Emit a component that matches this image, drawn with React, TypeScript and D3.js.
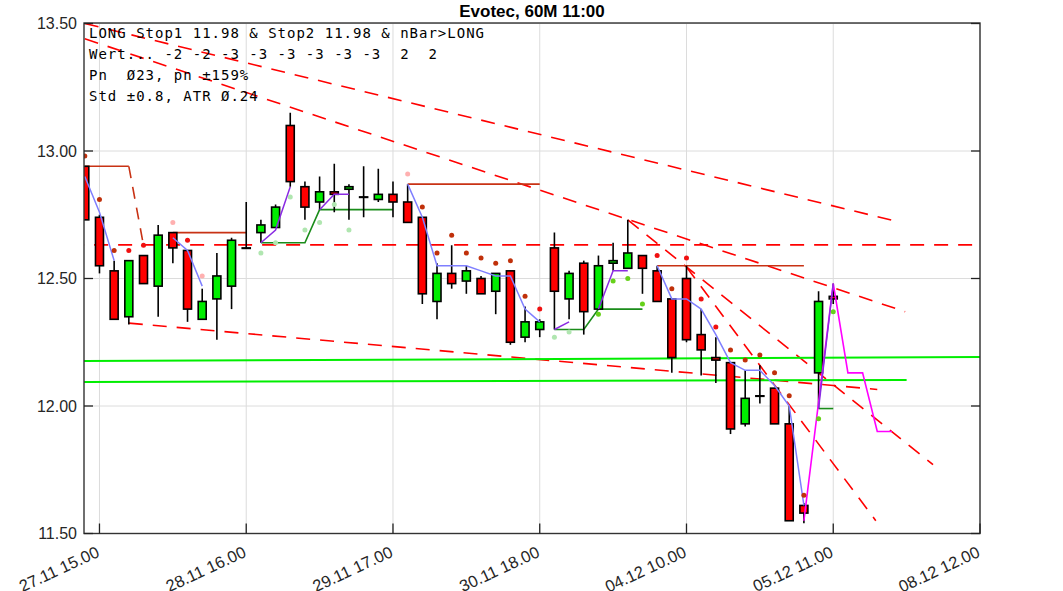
import React from 'react';
import * as d3 from 'd3';

// ---------- data ----------
const xTickIdx = [1, 11, 21, 31, 41, 51, 61];
const xTickLabels = ['27.11 15.00', '28.11 16.00', '29.11 17.00', '30.11 18.00', '04.12 10.00', '05.12 11.00', '08.12 12.00'];
const yTicks = [11.5, 12.0, 12.5, 13.0, 13.5];

const opens = [12.94, 12.74, 12.53, 12.35, 12.59, 12.47, 12.68, 12.61, 12.34, 12.42, 12.47, 12.62, 12.68, 12.70, 13.10, 12.86, 12.80, 12.84, 12.85, 12.82, 12.81, 12.83, 12.80, 12.74, 12.41, 12.52, 12.49, 12.50, 12.45, 12.53, 12.27, 12.30, 12.62, 12.42, 12.56, 12.38, 12.56, 12.54, 12.59, 12.53, 12.42, 12.50, 12.28, 12.19, 12.17, 11.93, 12.04, 12.07, 11.93, 11.61, 12.13, 12.43];
const highs = [12.94, 12.75, 12.57, 12.57, 12.59, 12.71, 12.68, 12.61, 12.46, 12.60, 12.66, 12.80, 12.73, 12.79, 13.15, 12.88, 12.90, 12.95, 12.87, 12.94, 12.93, 12.88, 12.87, 12.74, 12.56, 12.63, 12.55, 12.51, 12.52, 12.53, 12.39, 12.34, 12.68, 12.53, 12.57, 12.59, 12.64, 12.73, 12.59, 12.55, 12.42, 12.55, 12.38, 12.27, 12.17, 12.14, 12.16, 12.07, 12.00, 11.62, 12.45, 12.48];
const lows = [12.73, 12.52, 12.34, 12.32, 12.48, 12.35, 12.56, 12.33, 12.34, 12.26, 12.38, 12.62, 12.64, 12.70, 12.86, 12.73, 12.77, 12.76, 12.73, 12.74, 12.80, 12.74, 12.72, 12.40, 12.34, 12.46, 12.44, 12.44, 12.36, 12.24, 12.25, 12.27, 12.30, 12.34, 12.28, 12.38, 12.53, 12.54, 12.44, 12.41, 12.13, 12.25, 12.12, 12.09, 11.89, 11.92, 12.01, 11.93, 11.55, 11.54, 11.99, 12.40];
const closes = [12.73, 12.55, 12.34, 12.57, 12.48, 12.67, 12.62, 12.38, 12.41, 12.51, 12.65, 12.62, 12.71, 12.78, 12.88, 12.78, 12.84, 12.83, 12.86, 12.82, 12.83, 12.80, 12.72, 12.44, 12.52, 12.48, 12.53, 12.44, 12.52, 12.25, 12.33, 12.33, 12.45, 12.52, 12.37, 12.55, 12.57, 12.60, 12.54, 12.41, 12.19, 12.26, 12.22, 12.18, 11.91, 12.03, 12.04, 11.93, 11.55, 11.58, 12.41, 12.42];

type P = [number, number];

const darkRedDots: P[] = [[0, 12.98], [1, 12.81], [2, 12.61], [23, 12.78], [24, 12.60], [25, 12.67], [26, 12.60], [27, 12.58], [28, 12.56], [29, 12.57], [30, 12.43], [40, 12.46], [44, 12.22], [45, 12.18], [46, 12.20], [47, 12.13], [48, 12.04], [49, 11.65]];
const redDots: P[] = [[3, 12.61], [4, 12.63], [7, 12.65], [31, 12.38], [39, 12.59], [41, 12.58], [42, 12.42], [43, 12.31]];
const pinkDots: P[] = [[6, 12.72], [8, 12.51], [22, 12.91]];
const lightGreenDots: P[] = [[12, 12.60], [13, 12.64], [14, 12.82], [15, 12.69], [16, 12.72], [17, 12.79], [18, 12.69], [32, 12.27], [33, 12.29]];
const greenDots: P[] = [[35, 12.36], [36, 12.49], [37, 12.50], [38, 12.40], [50, 11.95], [51, 12.37]];

const blueLines: P[][] = [
  [[0, 12.90], [1, 12.76], [2, 12.57]],
  [[6, 12.66], [7, 12.61], [8, 12.47]],
  [[22, 12.87], [23, 12.74], [24, 12.55], [25, 12.55], [26, 12.55], [27, 12.53], [28, 12.51], [29, 12.51], [30, 12.38], [31, 12.33]],
  [[39, 12.55], [40, 12.42], [41, 12.42], [42, 12.38], [43, 12.28], [44, 12.17], [45, 12.14], [46, 12.14], [47, 12.08], [48, 12.00], [49, 11.61]],
];
const purpleLines: P[][] = [
  [[12, 12.64], [13, 12.69], [14, 12.86]],
  [[16, 12.77], [17, 12.83], [18, 12.83]],
  [[32, 12.30], [33, 12.33]],
  [[35, 12.38], [36, 12.53], [37, 12.53]],
  [[50, 11.99], [51, 12.48]],
];
const magentaLine: P[] = [[49, 11.55], [51, 12.48], [52, 12.13], [53, 12.13], [54, 11.90], [55, 11.90]];
const darkGreenLines: P[][] = [
  [[12, 12.64], [15, 12.64], [16, 12.77], [21, 12.77]],
  [[32, 12.30], [34, 12.30], [35, 12.38], [38, 12.38]],
  [[50, 11.99], [51, 11.99]],
];
const darkRedLines: P[][] = [
  [[0, 12.94], [3, 12.94]],
  [[6, 12.68], [11, 12.68]],
  [[22, 12.87], [31, 12.87]],
  [[39, 12.55], [49, 12.55]],
];
const darkRedDashed: P[][] = [[[3, 12.94], [4, 12.63]]];
const redDashed: P[][] = [
  [[-1, 12.632], [62, 12.632]],
  [[0, 13.50], [55.6, 12.72]],
  [[0, 13.44], [55.9, 12.37]],
  [[37, 12.73], [57.8, 11.77]],
  [[41, 12.545], [53.9, 11.55]],
  [[3, 12.325], [54, 12.065]],
];
const brightGreenLines: P[][] = [
  [[-0.1, 12.176], [61, 12.192]],
  [[-0.1, 12.094], [56, 12.102]],
];

const infoLines = [
  'LONG Stop1 11.98 & Stop2 11.98 & nBar>LONG',
  'Wert... -2 -2 -3 -3 -3 -3 -3 -3  2  2',
  'Pn  Ø23, pn ±159%',
  'Std ±0.8, ATR Ø.24',
];

export default function App() {
  const L = 84, R = 980, T = 23, B = 533.5;
  const x = d3.scaleLinear().domain([0, 61]).range([84.8, 980]);
  const y = d3.scaleLinear().domain([11.5, 13.5]).range([533.5, 23.5]);
  const line = d3.line<P>().x(d => x(d[0])).y(d => y(d[1]));
  const bw = 8;

  return (
    <div style={{ position: 'absolute', left: 0, top: 0 }}>
      <svg width={1063} height={591} style={{ display: 'block', background: '#fff' }}>
        <defs>
          <clipPath id="plot"><rect x={L} y={T} width={R - L} height={B - T} /></clipPath>
        </defs>
        <text x={532} y={17} textAnchor="middle" fontFamily="Liberation Sans, Arial, sans-serif" fontWeight="bold" fontSize={17} fill="#000">Evotec, 60M 11:00</text>
        {/* grid */}
        {xTickIdx.map(i => (
          <line key={'gx' + i} x1={x(i)} x2={x(i)} y1={T} y2={B} stroke="#dcdcdc" strokeWidth={1} />
        ))}
        {yTicks.map(v => (
          <line key={'gy' + v} x1={L} x2={R} y1={y(v)} y2={y(v)} stroke="#dcdcdc" strokeWidth={1} />
        ))}
        <g clipPath="url(#plot)">
          {redDashed.map((s, i) => (
            <path key={'rd' + i} d={line(s) || ''} fill="none" stroke="#ff0000" strokeWidth={1.6} strokeDasharray="14,10" />
          ))}
          {darkRedDashed.map((s, i) => (
            <path key={'drd' + i} d={line(s) || ''} fill="none" stroke="#c83214" strokeWidth={1.6} strokeDasharray="12,9" />
          ))}
          {brightGreenLines.map((s, i) => (
            <path key={'bg' + i} d={line(s) || ''} fill="none" stroke="#00ee00" strokeWidth={2} />
          ))}
          {darkRedLines.map((s, i) => (
            <path key={'dr' + i} d={line(s) || ''} fill="none" stroke="#c83214" strokeWidth={1.6} />
          ))}
          {darkGreenLines.map((s, i) => (
            <path key={'dg' + i} d={line(s) || ''} fill="none" stroke="#1a8c1a" strokeWidth={1.6} />
          ))}
          {opens.map((o, i) => {
            const c = closes[i];
            const up = c > o;
            const top = y(Math.max(o, c));
            const bot = y(Math.min(o, c));
            const cx = x(i);
            return (
              <g key={'c' + i}>
                <line x1={cx} x2={cx} y1={y(highs[i])} y2={y(lows[i])} stroke="#000" strokeWidth={1.6} />
                <rect x={cx - bw / 2} y={top} width={bw} height={Math.max(0.5, bot - top)}
                  fill={o === c ? '#000' : up ? '#00ee00' : '#ff0000'} stroke="#000" strokeWidth={1.6} />
              </g>
            );
          })}
          {blueLines.map((s, i) => (
            <path key={'bl' + i} d={line(s) || ''} fill="none" stroke="#7f7fff" strokeWidth={1.5} />
          ))}
          <path d={line(magentaLine) || ''} fill="none" stroke="#ff00ff" strokeWidth={1.6} />
          {purpleLines.map((s, i) => (
            <path key={'pl' + i} d={line(s) || ''} fill="none" stroke="#8a2be2" strokeWidth={1.5} />
          ))}
          {darkRedDots.map((d, i) => <circle key={'dd' + i} cx={x(d[0])} cy={y(d[1])} r={2.5} fill="#c0300a" />)}
          {redDots.map((d, i) => <circle key={'rdd' + i} cx={x(d[0])} cy={y(d[1])} r={2.5} fill="#f01010" />)}
          {pinkDots.map((d, i) => <circle key={'pd' + i} cx={x(d[0])} cy={y(d[1])} r={2.5} fill="#ffb0b0" />)}
          {lightGreenDots.map((d, i) => <circle key={'lg' + i} cx={x(d[0])} cy={y(d[1])} r={2.5} fill="#b0e6b0" />)}
          {greenDots.map((d, i) => <circle key={'gd' + i} cx={x(d[0])} cy={y(d[1])} r={2.5} fill="#66d11a" />)}
        </g>
        {/* frame */}
        <rect x={L} y={T} width={R - L} height={B - T} fill="none" stroke="#333" strokeWidth={1.4} />
        {xTickIdx.map(i => (
          <line key={'tx' + i} x1={x(i)} x2={x(i)} y1={B} y2={B - 10} stroke="#222" strokeWidth={1.3} />
        ))}
        {yTicks.map(v => (
          <g key={'ty' + v}>
            <line x1={L} x2={L + 9} y1={y(v)} y2={y(v)} stroke="#222" strokeWidth={1.3} />
            <line x1={R} x2={R - 9} y1={y(v)} y2={y(v)} stroke="#222" strokeWidth={1.3} />
            <text x={77} y={y(v)} dy="0.36em" textAnchor="end" fontFamily="Liberation Sans, Arial, sans-serif" fontSize={16} fill="#262626">{v.toFixed(2)}</text>
          </g>
        ))}
        {xTickIdx.map((i, k) => (
          <text key={'lx' + i} transform={`translate(${x(i) + 1},556) rotate(-25)`} textAnchor="end"
            fontFamily="Liberation Sans, Arial, sans-serif" fontSize={16.5} fill="#262626">{xTickLabels[k]}</text>
        ))}
        {infoLines.map((t, k) => (
          <text key={'il' + k} x={89} y={38 + k * 21} fontFamily="DejaVu Sans Mono, monospace" fontSize={14}
            letterSpacing={1} fill="#000" style={{ whiteSpace: 'pre' }}>{t}</text>
        ))}
      </svg>
    </div>
  );
}
